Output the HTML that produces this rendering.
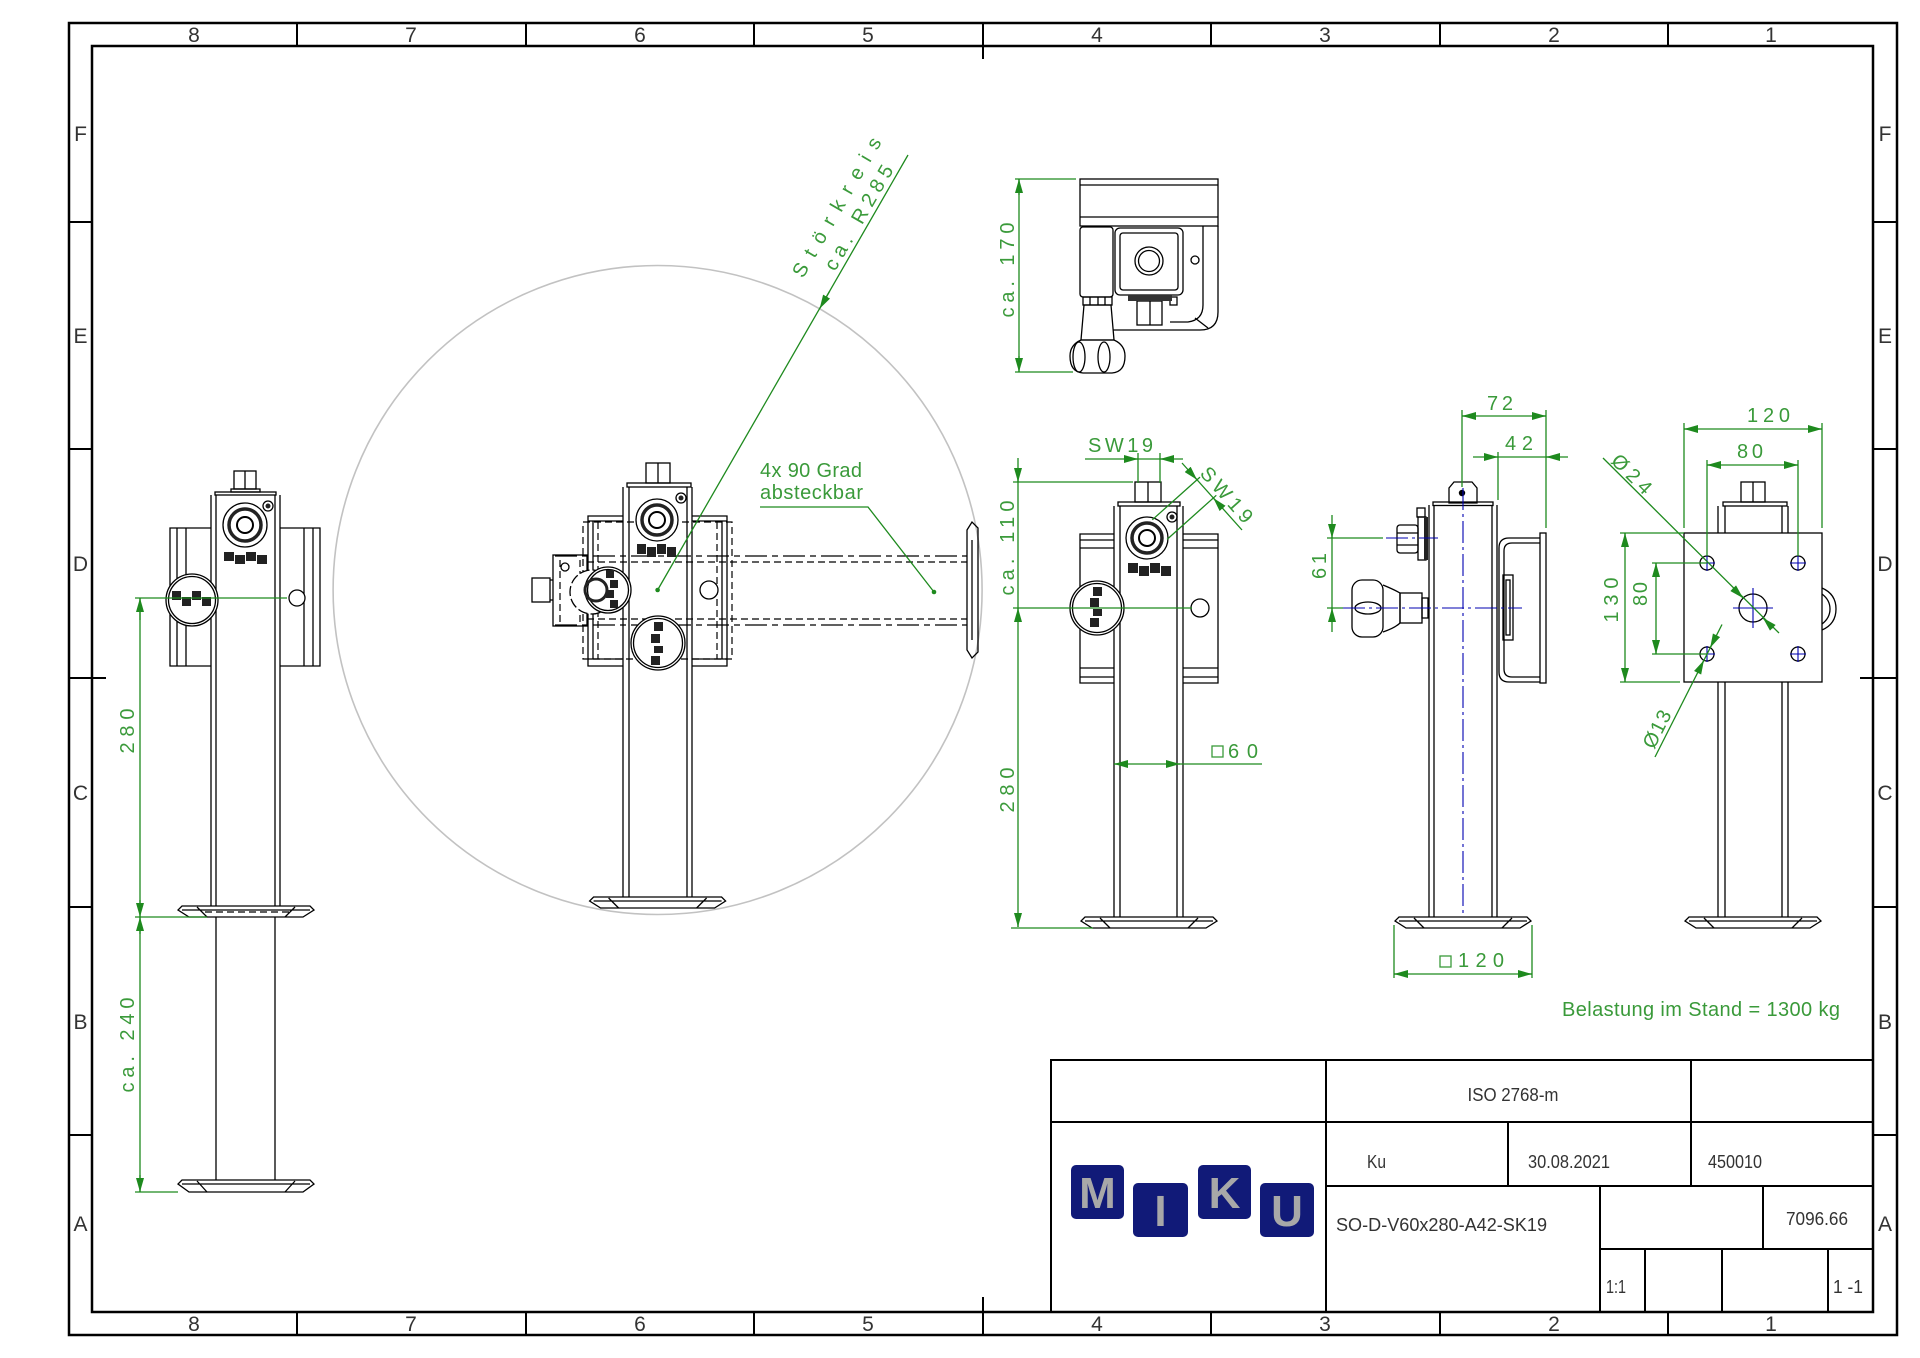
<!DOCTYPE html>
<html><head><meta charset="utf-8"><style>
html,body{margin:0;padding:0;background:#fff;}
svg{display:block;}
</style></head><body>
<svg width="1920" height="1358" viewBox="0 0 1920 1358" xmlns="http://www.w3.org/2000/svg" font-family="'Liberation Sans', sans-serif">
<defs>
<marker id="ar" viewBox="0 0 14 8" refX="14" refY="4" markerWidth="14" markerHeight="8" markerUnits="userSpaceOnUse" orient="auto"><path d="M0,0 L14,4 L0,8 z" fill="#1e8a1e"/></marker>
<style>
.k{stroke:#000;stroke-width:1.3;fill:none}
.kw{stroke:#000;stroke-width:1.3;fill:#fff}
.g{stroke:#1e8a1e;stroke-width:1.3;fill:none}
.a{stroke:#1e8a1e;stroke-width:1.3;fill:none;marker-end:url(#ar)}
.t{fill:#3a9a3a;font-size:20px}
.h{stroke:#000;stroke-width:1.2;fill:none;stroke-dasharray:7 4}
.hl{stroke:#000;stroke-width:1.2;fill:none;stroke-dasharray:22 5 6 5}
.c{stroke:#0000b0;stroke-width:1.1;fill:none;stroke-dasharray:22 4 3 4}
.cb{stroke:#0000b0;stroke-width:1.1;fill:none}
.b{fill:#333;font-size:21px}
.tb{fill:#333;font-size:18px}
.mm{fill:#222}
</style>
</defs>

<!-- FRAME -->
<g fill="none" stroke="#000" stroke-width="2.5">
<rect x="69" y="23" width="1828" height="1312"/>
<rect x="92" y="46" width="1781" height="1266"/>
</g>
<g stroke="#000" stroke-width="2">
<path d="M297,23V46M526,23V46M754,23V46M983,23V46M1211,23V46M1440,23V46M1668,23V46"/>
<path d="M297,1312V1335M526,1312V1335M754,1312V1335M983,1312V1335M1211,1312V1335M1440,1312V1335M1668,1312V1335"/>
<path d="M69,222H92M69,449H92M69,678H106M69,907H92M69,1135H92"/>
<path d="M1873,222H1897M1873,449H1897M1860,678H1897M1873,907H1897M1873,1135H1897"/>
<path d="M983,46V59M983,1297V1312"/>
</g>
<g class="b" text-anchor="middle">
<text x="194" y="42">8</text><text x="411" y="42">7</text><text x="640" y="42">6</text><text x="868" y="42">5</text>
<text x="1097" y="42">4</text><text x="1325" y="42">3</text><text x="1554" y="42">2</text><text x="1771" y="42">1</text>
<text x="194" y="1331">8</text><text x="411" y="1331">7</text><text x="640" y="1331">6</text><text x="868" y="1331">5</text>
<text x="1097" y="1331">4</text><text x="1325" y="1331">3</text><text x="1554" y="1331">2</text><text x="1771" y="1331">1</text>
<text x="80.5" y="141">F</text><text x="80.5" y="343">E</text><text x="80.5" y="571">D</text><text x="80.5" y="800">C</text><text x="80.5" y="1029">B</text><text x="80.5" y="1231">A</text>
<text x="1885" y="141">F</text><text x="1885" y="343">E</text><text x="1885" y="571">D</text><text x="1885" y="800">C</text><text x="1885" y="1029">B</text><text x="1885" y="1231">A</text>
</g>

<!-- TITLE BLOCK -->
<g fill="none" stroke="#000" stroke-width="2">
<rect x="1051" y="1060" width="822" height="252"/>
<path d="M1051,1122H1873M1326,1186H1873M1600,1249H1873"/>
<path d="M1326,1060V1312M1691,1060V1186M1508,1122V1186M1600,1186V1312M1763,1186V1249M1645,1249V1312M1722,1249V1312M1828,1249V1312"/>
</g>
<g class="tb">
<text x="1513" y="1101" text-anchor="middle" textLength="91" lengthAdjust="spacingAndGlyphs">ISO 2768-m</text>
<text x="1367" y="1168" textLength="19" lengthAdjust="spacingAndGlyphs">Ku</text>
<text x="1528" y="1168" textLength="82" lengthAdjust="spacingAndGlyphs">30.08.2021</text>
<text x="1708" y="1168" textLength="54" lengthAdjust="spacingAndGlyphs">450010</text>
<text x="1336" y="1231" textLength="211" lengthAdjust="spacingAndGlyphs">SO-D-V60x280-A42-SK19</text>
<text x="1786" y="1225" textLength="62" lengthAdjust="spacingAndGlyphs">7096.66</text>
<text x="1606" y="1293" textLength="20" lengthAdjust="spacingAndGlyphs">1:1</text>
<text x="1833" y="1293" textLength="30" lengthAdjust="spacingAndGlyphs">1 -1</text>
</g>
<!-- MIKU logo -->
<g>
<rect x="1071" y="1165" width="53" height="54" rx="5" fill="#111a78"/>
<rect x="1133" y="1183" width="55" height="54" rx="5" fill="#111a78"/>
<rect x="1198" y="1165" width="53" height="54" rx="5" fill="#111a78"/>
<rect x="1260" y="1183" width="54" height="54" rx="5" fill="#111a78"/>
<g fill="#a8a8a8" font-weight="bold" font-size="44" text-anchor="middle">
<text x="1097.5" y="1208">M</text>
<text x="1160.5" y="1226">I</text>
<text x="1224.5" y="1208">K</text>
<text x="1287" y="1226">U</text>
</g>
</g>

<!-- ===== LEFT VIEW ===== -->
<g class="k">
<rect x="234" y="471" width="22" height="18"/><line x1="245" y1="471" x2="245" y2="489"/>
<rect x="231" y="489" width="29" height="3"/>
<rect x="215" y="492" width="61" height="3"/>
<path d="M211,495V906M280,495V906M216,495V906M275,495V906"/>
<path d="M211,528H170V666H211M177,528V666M186,528V666M280,528H320V666H280M304,528V666M313,528V666"/>
<path d="M216,917V1180M275,917V1180"/>
</g>
<circle cx="268" cy="506" r="5" class="k"/><circle cx="268" cy="506" r="2.5" fill="#222"/>
<circle cx="245" cy="525" r="22" class="kw"/>
<circle cx="245" cy="525" r="16" fill="none" stroke="#222" stroke-width="3.5"/>
<circle cx="245" cy="525" r="8" fill="#fff" stroke="#000" stroke-width="2"/>
<g class="mm"><rect x="224" y="552" width="10" height="9"/><rect x="235" y="555" width="10" height="9"/><rect x="246" y="552" width="10" height="9"/><rect x="257" y="555" width="10" height="9"/></g>
<circle cx="192" cy="600" r="26" class="kw"/><circle cx="192" cy="600" r="23.5" class="k"/>
<g class="mm"><rect x="172" y="591" width="9" height="9"/><rect x="182" y="597" width="9" height="9"/><rect x="192" y="591" width="9" height="9"/><rect x="202" y="597" width="9" height="9"/></g>
<circle cx="297" cy="598" r="8" class="kw"/>
<!-- feet -->
<g class="kw">
<polygon points="182,906 310,906 314,910 303,917 189,917 178,910"/>
<polygon points="182,1180 310,1180 314,1184 303,1192 189,1192 178,1184"/>
</g>
<g class="k">
<path d="M182,910H310M197,907L207,917M295,907L285,917"/>
<path d="M182,1184H310M197,1181L207,1192M295,1181L285,1192"/>
</g>
<path d="M205,912H290" class="h"/>
<!-- left dims -->
<g class="g"><path d="M135,598H287M140,598V1192M135,917H207M135,1192H178"/></g>
<g class="a"><path d="M140,620L140,598"/><path d="M140,900L140,917"/><path d="M140,934L140,917"/><path d="M140,1175L140,1192"/></g>
<text class="t" transform="translate(134,731) rotate(-90)" text-anchor="middle" textLength="45" lengthAdjust="spacing">280</text>
<text class="t" transform="translate(134,1045) rotate(-90)" text-anchor="middle" textLength="95" lengthAdjust="spacing">ca. 240</text>

<!-- ===== CENTER VIEW ===== -->
<circle cx="657.6" cy="590" r="324.5" stroke="#c2c2c2" stroke-width="1.6" fill="none"/>
<g class="k">
<rect x="646" y="463" width="24" height="20"/><line x1="658" y1="463" x2="658" y2="483"/>
<rect x="627" y="483" width="64" height="4"/>
<path d="M623,487V897M692,487V897M629,487V897M687,487V897"/>
<path d="M623,516H588V666H623M593,521V659M588,521H623M588,659H623"/>
<path d="M692,516H727V666H692M722,521V659M692,521H727M692,659H727"/>
<rect x="553" y="555" width="34" height="71"/>
<rect x="532" y="578" width="18" height="24"/><line x1="550" y1="580" x2="553" y2="580"/><line x1="550" y1="600" x2="553" y2="600"/>
<path d="M967,530L972,522L978,528V652L972,658L967,650Z"/>
<path d="M972,540V640"/>
</g>
<g class="h"><rect x="583" y="522" width="149" height="137"/><path d="M598,522V659M717,522V659M560,560V622M580,560V622"/></g>
<g class="hl"><path d="M555,556H967M555,625H967"/></g>
<g class="h"><path d="M587,562H967M587,619H967"/></g>
<circle cx="565" cy="567" r="4" class="k"/>
<circle cx="681" cy="498" r="5" class="k"/><circle cx="681" cy="498" r="2.5" fill="#222"/>
<circle cx="657" cy="520" r="21" class="kw"/>
<circle cx="657" cy="520" r="15" fill="none" stroke="#222" stroke-width="3.5"/>
<circle cx="657" cy="520" r="8" fill="#fff" stroke="#000" stroke-width="2"/>
<g class="mm"><rect x="637" y="544" width="9" height="10"/><rect x="647" y="547" width="9" height="10"/><rect x="657" y="544" width="9" height="10"/><rect x="667" y="547" width="9" height="10"/></g>
<circle cx="709" cy="590" r="9" class="kw"/>
<circle cx="592" cy="592" r="22" class="kw" stroke-dasharray="10 3"/>
<circle cx="608" cy="590" r="23" class="kw" stroke-width="1.8"/><circle cx="608" cy="590" r="20.5" class="k"/>
<circle cx="596" cy="590" r="11" fill="none" stroke="#222" stroke-width="3"/>
<g class="mm"><rect x="606" y="570" width="8" height="8"/><rect x="610" y="580" width="8" height="8"/><rect x="606" y="590" width="8" height="8"/><rect x="610" y="600" width="8" height="8"/></g>
<circle cx="658" cy="643" r="27" class="kw"/><circle cx="658" cy="643" r="24.5" class="k"/>
<g class="mm"><rect x="654" y="622" width="9" height="9"/><rect x="651" y="634" width="9" height="9"/><rect x="654" y="646" width="9" height="7"/><rect x="651" y="656" width="9" height="9"/></g>
<polygon points="593.6,897 721.6,897 725.6,901 714.6,908 600.6,908 589.6,901" class="kw"/>
<path d="M593.6,901H721.6M608.6,898L618.6,908M706.6,898L696.6,908" class="k"/>
<!-- Störkreis -->
<path d="M657.6,590L908,155" class="g"/>
<circle cx="657.6" cy="590" r="2.3" fill="#1e8a1e"/>
<path d="M829.6,291.3L819.6,308.7" class="a"/>
<text class="t" transform="translate(803,279) rotate(-60)" textLength="158" lengthAdjust="spacing">Störkreis</text>
<text class="t" transform="translate(835,272) rotate(-60)" textLength="118" lengthAdjust="spacing">ca. R285</text>
<!-- 4x 90 Grad -->
<text class="t" x="760" y="477" font-size="21" textLength="102" lengthAdjust="spacing">4x 90 Grad</text>
<text class="t" x="760" y="499" font-size="21" textLength="103" lengthAdjust="spacing">absteckbar</text>
<path d="M760,507H868L934,592" class="g"/>
<circle cx="934" cy="592" r="2.3" fill="#1e8a1e"/>

<!-- ===== TOP VIEW ===== -->
<g class="k">
<rect x="1080" y="179" width="138" height="47"/>
<path d="M1080,185H1218M1080,217H1218"/>
<path d="M1218,226V312Q1218,330 1200,330H1113"/>
<path d="M1203,226V305Q1203,320 1188,322H1170"/>
<path d="M1195,318L1208,328"/>
<rect x="1080" y="227" width="33" height="70" rx="3"/>
<rect x="1115" y="228" width="68" height="67" rx="5"/>
<rect x="1120" y="233" width="58" height="57" rx="3"/>
<circle cx="1149" cy="261" r="14"/>
<circle cx="1149" cy="261" r="10.5"/>
<circle cx="1195" cy="260" r="4"/>
<rect x="1137" y="301" width="25" height="24"/><line x1="1150" y1="301" x2="1150" y2="325"/>
<rect x="1170" y="297" width="7" height="8"/>
<rect x="1083" y="297" width="29" height="8"/><path d="M1090,297V305M1098,297V305M1105,297V305"/>
<path d="M1084,305H1111L1114,340H1081Z"/>
<path d="M1081,340H1114Q1125,345 1125,356Q1125,372 1112,373H1083Q1070,372 1070,356Q1070,345 1081,340Z"/>
<ellipse cx="1079" cy="357" rx="6" ry="15"/><ellipse cx="1104" cy="357" rx="6" ry="15"/>
</g>
<rect x="1128" y="295" width="44" height="6" fill="#333"/>
<g class="g"><path d="M1015,179H1076M1015,372H1073M1019,179V372"/></g>
<g class="a"><path d="M1019,195L1019,179"/><path d="M1019,356L1019,372"/></g>
<text class="t" transform="translate(1014,270) rotate(-90)" text-anchor="middle" textLength="95" lengthAdjust="spacing">ca. 170</text>

<!-- ===== FRONT VIEW ===== -->
<g class="k">
<rect x="1135" y="482" width="26" height="20"/><line x1="1148" y1="482" x2="1148" y2="502"/>
<rect x="1118" y="502" width="62" height="4"/>
<path d="M1114,506V917M1183,506V917M1120,506V917M1177,506V917"/>
<path d="M1114,534H1080V683H1114M1080,540H1114M1080,548H1114M1080,668H1114M1080,677H1114"/>
<path d="M1183,534H1218V683H1183M1183,540H1218M1183,548H1218M1183,668H1218M1183,677H1218"/>
</g>
<circle cx="1172" cy="517" r="5" class="k"/><circle cx="1172" cy="517" r="2.5" fill="#222"/>
<circle cx="1147" cy="538" r="21" class="kw"/>
<circle cx="1147" cy="538" r="15" fill="none" stroke="#222" stroke-width="3.5"/>
<circle cx="1147" cy="538" r="8" fill="#fff" stroke="#000" stroke-width="2"/>
<g class="mm"><rect x="1128" y="563" width="10" height="10"/><rect x="1139" y="566" width="10" height="10"/><rect x="1150" y="563" width="10" height="10"/><rect x="1161" y="566" width="10" height="10"/></g>
<circle cx="1200" cy="608" r="9" class="kw"/>
<circle cx="1097" cy="608" r="27" class="kw"/><circle cx="1097" cy="608" r="24.5" class="k"/>
<g class="mm"><rect x="1093" y="587" width="9" height="9"/><rect x="1090" y="598" width="9" height="9"/><rect x="1093" y="609" width="9" height="7"/><rect x="1090" y="618" width="9" height="9"/></g>
<polygon points="1085,917 1213,917 1217,921 1206,928 1092,928 1081,921" class="kw"/>
<path d="M1085,921H1213M1100,918L1110,928M1198,918L1188,928" class="k"/>
<!-- front dims -->
<g class="g">
<path d="M1085,459H1183M1138,453V483M1160,453V483"/>
<path d="M1182,463L1242,530"/>
<path d="M1152.3,519.8L1200,477.1M1167.1,539.4L1216.3,495.3"/>
<path d="M1018,458V927M1013,482H1133M1013,608H1192M1011,928H1093"/>
<path d="M1114,764H1262"/>
</g>
<g class="a">
<path d="M1124,459L1138,459"/><path d="M1174,459L1160,459"/>
<path d="M1187.7,469.4L1197,479.8"/><path d="M1222.6,508.4L1213.3,498"/>
<path d="M1018,468L1018,482"/><path d="M1018,622L1018,608"/><path d="M1018,913L1018,927"/>
<path d="M1128,764L1114,764"/><path d="M1166,764L1180,764"/>
</g>
<text class="t" x="1088" y="452" textLength="65" lengthAdjust="spacing">SW19</text>
<text class="t" transform="translate(1199,474) rotate(48.2)" textLength="68" lengthAdjust="spacing">SW19</text>
<text class="t" transform="translate(1014,548) rotate(-90)" text-anchor="middle" textLength="95" lengthAdjust="spacing">ca. 110</text>
<text class="t" transform="translate(1014,790) rotate(-90)" text-anchor="middle" textLength="45" lengthAdjust="spacing">280</text>
<rect x="1212" y="746" width="11" height="11" fill="none" stroke="#3a9a3a" stroke-width="1.3"/>
<text class="t" x="1228" y="758" textLength="30" lengthAdjust="spacing">60</text>

<!-- ===== SIDE VIEW ===== -->
<g class="k">
<path d="M1449,503V488L1454,482H1472L1477,488V503Z"/>
<rect x="1433" y="502" width="60" height="3.5"/>
<path d="M1429,505V917M1497,505V917M1434,505V917M1492,505V917"/>
<path d="M1540,538H1509Q1499,538 1499,548V672Q1499,682 1509,682H1540"/>
<path d="M1540,543H1512Q1504,543 1504,551V669Q1504,677 1512,677H1540"/>
<rect x="1540" y="533" width="6" height="150"/>
<rect x="1503" y="575" width="10" height="65"/><rect x="1506" y="580" width="4" height="55"/>
<rect x="1397" y="525" width="21" height="28" rx="3"/><path d="M1397,533H1418M1397,545H1418"/>
<rect x="1418" y="517" width="8" height="43"/>
<rect x="1417" y="508" width="8" height="9"/>
<rect x="1352" y="580" width="31" height="57" rx="10"/>
<path d="M1383,585Q1395,590 1400,593V623Q1395,628 1383,632"/>
<rect x="1400" y="593" width="22" height="30"/>
<rect x="1422" y="598" width="6" height="20"/>
<ellipse cx="1368" cy="608" rx="13" ry="6"/>
</g>
<rect x="1424" y="517" width="4" height="43" fill="#222"/>
<circle cx="1462" cy="493" r="3.2" fill="#000"/>
<path d="M1463,488V928" class="c"/>
<path d="M1386,538H1438M1343,608H1522" class="c"/>
<polygon points="1399,917 1527,917 1531,921 1520,928 1406,928 1395,921" class="kw"/>
<path d="M1399,921H1527M1414,918L1424,928M1512,918L1502,928" class="k"/>
<g class="g">
<path d="M1462,410V487M1546,410V528M1498,452V500"/>
<path d="M1462,416H1546M1473,457H1568"/>
<path d="M1332,515V632M1327,538H1383M1327,608H1343"/>
<path d="M1394,925V978M1532,925V978M1394,974H1532"/>
</g>
<g class="a">
<path d="M1476,416L1462,416"/><path d="M1532,416L1546,416"/>
<path d="M1484,457L1498,457"/><path d="M1560,457L1546,457"/>
<path d="M1332,524L1332,538"/><path d="M1332,622L1332,608"/>
<path d="M1408,974L1394,974"/><path d="M1518,974L1532,974"/>
</g>
<text class="t" x="1487" y="410" textLength="26" lengthAdjust="spacing">72</text>
<text class="t" x="1505" y="450" textLength="28" lengthAdjust="spacing">42</text>
<text class="t" transform="translate(1326,566) rotate(-90)" text-anchor="middle" textLength="26" lengthAdjust="spacing">61</text>
<rect x="1440" y="956" width="11" height="11" fill="none" stroke="#3a9a3a" stroke-width="1.3"/>
<text class="t" x="1458" y="967" textLength="46" lengthAdjust="spacing">120</text>

<!-- ===== RIGHT VIEW ===== -->
<g class="k">
<rect x="1741" y="482" width="24" height="20"/><line x1="1753" y1="482" x2="1753" y2="502"/>
<rect x="1723" y="502" width="64" height="4"/>
<path d="M1718,506V533M1788,506V533M1725,506V533M1782,506V533"/>
<rect x="1684" y="533" width="138" height="149"/>
<path d="M1718,682V917M1725,682V917M1782,682V917M1788,682V917"/>
<path d="M1822,588Q1836,594 1836,609Q1836,624 1822,630"/>
<path d="M1822,594Q1830,600 1830,609Q1830,618 1822,624"/>
<circle cx="1707" cy="563" r="7"/><circle cx="1798" cy="563" r="7"/>
<circle cx="1707" cy="654" r="7"/><circle cx="1798" cy="654" r="7"/>
<circle cx="1753" cy="608" r="14"/>
</g>
<g class="cb">
<path d="M1699,563H1715M1707,555V571M1790,563H1806M1798,555V571"/>
<path d="M1699,654H1715M1707,646V662M1790,654H1806M1798,646V662"/>
<path d="M1733,608H1773M1753,588V628"/>
</g>
<polygon points="1689,917 1817,917 1821,921 1810,928 1696,928 1685,921" class="kw"/>
<path d="M1689,921H1817M1704,918L1714,928M1802,918L1792,928" class="k"/>
<g class="g">
<path d="M1684,423V528M1822,423V528M1684,429H1822"/>
<path d="M1707,460V556M1798,460V556M1707,465H1798"/>
<path d="M1620,533H1684M1620,682H1680M1625,533V682"/>
<path d="M1652,563H1707M1652,654H1707M1656,563V654"/>
<path d="M1603,458L1779,633"/>
<path d="M1722,624.5L1655,757"/>
</g>
<g class="a">
<path d="M1698,429L1684,429"/><path d="M1808,429L1822,429"/>
<path d="M1721,465L1707,465"/><path d="M1784,465L1798,465"/>
<path d="M1625,547L1625,533"/><path d="M1625,668L1625,682"/>
<path d="M1656,577L1656,563"/><path d="M1656,640L1656,654"/>
<path d="M1733,588L1743.1,598.1"/><path d="M1773,628L1762.9,617.9"/>
<path d="M1716.5,635.2L1710.2,647.7"/><path d="M1697.5,673L1703.9,660.3"/>
</g>
<text class="t" x="1747" y="422" textLength="43" lengthAdjust="spacing">120</text>
<text class="t" x="1737" y="458" textLength="26" lengthAdjust="spacing">80</text>
<text class="t" transform="translate(1618,600) rotate(-90)" text-anchor="middle" textLength="45" lengthAdjust="spacing">130</text>
<text class="t" transform="translate(1647,594) rotate(-90)" text-anchor="middle" textLength="24" lengthAdjust="spacing">80</text>
<text class="t" transform="translate(1610,462) rotate(44.8)" textLength="48" lengthAdjust="spacing">Ø24</text>
<text class="t" transform="translate(1654,750) rotate(-63.3)" textLength="40" lengthAdjust="spacing">Ø13</text>

<text class="t" x="1562" y="1016" font-size="19" textLength="278" lengthAdjust="spacing">Belastung im Stand = 1300 kg</text>
</svg>
</body></html>
